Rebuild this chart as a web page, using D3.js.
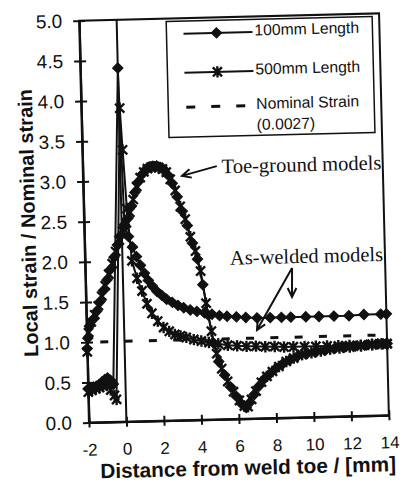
<!DOCTYPE html>
<html>
<head>
<meta charset="utf-8">
<script src="https://cdn.jsdelivr.net/npm/d3@7"></script>
<style>
body { margin: 0; background: #fff; }
svg { display: block; }
.axis text { font-family: "Liberation Sans", Arial, sans-serif; fill: #111; }
.axis path, .axis line { stroke: #111; stroke-width: 2; }
.title { font-family: "Liberation Sans", Arial, sans-serif; font-weight: bold; font-size: 20px; fill: #111; }
.legend text { font-family: "Liberation Sans", Arial, sans-serif; font-size: 15.7px; fill: #111; }
.note { font-family: "Liberation Serif", "Times New Roman", serif; font-size: 20.5px; fill: #111; }
.series { fill: none; stroke: #111; stroke-width: 2; }
</style>
</head>
<body>
<div class="svg-container"></div>
<script>
var xTicks = [-2, 0, 2, 4, 6, 8, 10, 12, 14];
var yTicks = [0, 0.5, 1, 1.5, 2, 2.5, 3, 3.5, 4, 4.5, 5];
var nominalStrain = 1.0;
var weldToeX = 0;
var seriesNames = ['100mm Length', '500mm Length', 'Nominal Strain', '(0.0027)'];

// as-welded, 100mm (diamonds)
var aw100 = [[-2.0,0.42],[-1.85,0.42],[-1.7,0.44],[-1.55,0.45],[-1.4,0.47],[-1.25,0.5],[-1.1,0.53],
	[-0.95,0.55],[-0.8,0.52],[-0.65,0.47],[0.0,4.4],[0.15,2.45],[0.35,2.3],[0.55,2.17],[0.75,2.05],
	[0.95,1.94],[1.15,1.84],[1.35,1.75],[1.55,1.68],[1.8,1.61],[2.05,1.56],[2.3,1.51],[2.6,1.47],
	[2.9,1.43],[3.2,1.4],[3.55,1.37],[3.9,1.35],[4.3,1.33],[4.7,1.31],[5.1,1.29],[5.5,1.28],[6.0,1.27],
	[6.5,1.26],[7.1,1.25],[7.8,1.25],[8.4,1.25],[8.9,1.25],[9.7,1.25],[10.4,1.25],[11.2,1.25],
	[12.0,1.25],[12.8,1.26],[13.7,1.26],[14,1.26]];

// as-welded, 500mm (stars)
var aw500 = [[-2.0,0.38],[-1.8,0.4],[-1.6,0.42],[-1.4,0.43],[-1.2,0.45],[-1.0,0.46],[-0.8,0.4],
	[-0.6,0.33],[-0.5,0.28],[0.05,3.9],[0.15,3.38],[0.3,2.65],[0.5,2.0],[0.75,1.78],[1.0,1.62],
	[1.25,1.46],[1.5,1.34],[1.8,1.24],[2.1,1.16],[2.4,1.11],[2.7,1.07],[3.0,1.05],[3.3,1.03],[3.7,1.0],
	[4.1,0.98],[4.5,0.96],[5.0,0.94],[5.5,0.92],[6.0,0.91],[6.5,0.9],[7.0,0.9],[7.5,0.89],[8.0,0.89],
	[8.5,0.88],[9.0,0.88],[9.6,0.88],[10.2,0.88],[10.8,0.88],[11.4,0.88],[12.0,0.88],[12.6,0.88],
	[13.2,0.89],[13.7,0.89],[14,0.89]];

// toe-ground, 100mm (diamonds)
var tg100 = [[-2.0,0.92],[-1.95,1.05],[-1.85,1.2],[-1.65,1.28],[-1.45,1.38],[-1.25,1.5],[-1.05,1.64],
	[-0.85,1.77],[-0.65,1.9],[-0.45,2.05],[-0.25,2.2],[-0.05,2.32],[0.15,2.42],[0.35,2.53],[0.55,2.68],
	[0.75,2.85],[0.95,2.98],[1.15,3.07],[1.35,3.13],[1.55,3.16],[1.75,3.17],[1.95,3.17],[2.15,3.15],
	[2.35,3.12],[2.55,3.05],[2.75,2.95],[3.0,2.78],[3.25,2.6],[3.5,2.42],[3.75,2.2],[4.0,2.0],[4.25,1.68],
	[4.5,1.3],[4.75,0.95],[5.0,0.72],[5.3,0.55],[5.6,0.4],[5.9,0.28],[6.15,0.19],[6.4,0.14],[6.6,0.2],
	[6.85,0.3],[7.1,0.4],[7.4,0.49],[7.7,0.55],[8.0,0.61],[8.4,0.67],[8.8,0.72],[9.2,0.76],[9.7,0.79],
	[10.2,0.81],[10.7,0.83],[11.2,0.85],[11.7,0.86],[12.3,0.87],[12.9,0.88],[13.5,0.89],[14,0.89]];

// toe-ground, 500mm (stars)
var tg500 = [[-2.0,0.88],[-1.9,1.12],[-1.75,1.25],[-1.55,1.34],[-1.35,1.45],[-1.15,1.57],[-0.95,1.7],
	[-0.75,1.84],[-0.55,1.97],[-0.35,2.12],[-0.15,2.26],[0.05,2.37],[0.25,2.47],[0.45,2.6],[0.65,2.76],
	[0.85,2.92],[1.05,3.03],[1.25,3.1],[1.45,3.14],[1.65,3.16],[1.85,3.16],[2.05,3.15],[2.25,3.13],
	[2.45,3.09],[2.65,3.0],[2.9,2.86],[3.15,2.66],[3.4,2.5],[3.65,2.28],[3.9,2.1],[4.15,1.85],[4.4,1.45],
	[4.65,1.1],[4.9,0.82],[5.15,0.63],[5.45,0.47],[5.75,0.34],[6.05,0.23],[6.3,0.16],[6.5,0.15],
	[6.7,0.24],[6.95,0.34],[7.25,0.45],[7.55,0.52],[7.85,0.58],[8.2,0.64],[8.6,0.7],[9.0,0.74],
	[9.45,0.78],[9.95,0.8],[10.45,0.82],[10.95,0.84],[11.45,0.85],[12.0,0.86],[12.6,0.87],[13.2,0.88],
	[13.75,0.89],[14,0.89]];

// annotations, in data units
var toeNote = { text: 'Toe-ground models', x: 5.41, y: 3.06, from: [5.15, 3.15], to: [3.28, 3.04] };
var weldNote = { text: 'As-welded models', x: 5.73, y: 1.92, from: [9.03, 1.86], to: [[7.08, 1.1], [8.99, 1.5]] };

var width = 405, height = 484;
var margin = { left: 84, right: 21, top: 17, bottom: 65 };

var svg = d3.select('.svg-container')
	.append('svg')
	.attr('width', width)
	.attr('height', height);

// the scan is slightly rotated
var chart = svg.append('g')
	.attr('transform', 'rotate(-1.4, 234, 218)');

var xScale = d3.scaleLinear()
	.domain([-2, 14])
	.range([margin.left, width - margin.right]);

var yScale = d3.scaleLinear()
	.domain([0, 5])
	.range([height - margin.bottom, margin.top]);

var x0 = xScale.range()[0], x1 = xScale.range()[1];
var y0 = yScale.range()[0], y1 = yScale.range()[1];

// frame
chart.append('rect')
	.attr('x', x0).attr('y', y1)
	.attr('width', x1 - x0).attr('height', y0 - y1)
	.attr('fill', 'none').attr('stroke', '#111').attr('stroke-width', 2);

// y axis, ticks crossing the axis line
chart.append('g')
	.attr('class', 'axis')
	.attr('transform', 'translate(' + x0 + ',0)')
	.call(d3.axisLeft(yScale).tickValues(yTicks).tickSize(6).tickSizeOuter(0).tickPadding(11)
		.tickFormat(d3.format('.1f')))
	.selectAll('text').attr('font-size', '19px');

chart.append('g')
	.attr('class', 'axis')
	.attr('transform', 'translate(' + x0 + ',0)')
	.call(d3.axisRight(yScale).tickValues(yTicks).tickSize(6).tickSizeOuter(0).tickFormat(''));

// x axis
chart.append('g')
	.attr('class', 'axis')
	.attr('transform', 'translate(0,' + y0 + ')')
	.call(d3.axisBottom(xScale).tickValues(xTicks).tickSize(5).tickSizeOuter(0).tickPadding(16)
		.tickFormat(function(d) { return String(d); }))
	.selectAll('text').attr('font-size', '17px');

chart.append('g')
	.attr('class', 'axis')
	.attr('transform', 'translate(0,' + y0 + ')')
	.call(d3.axisTop(xScale).tickValues(xTicks).tickSize(5).tickSizeOuter(0).tickFormat(''));

// axis titles
chart.append('text')
	.attr('class', 'title')
	.attr('transform', 'translate(35,' + ((y0 + y1) / 2) + ') rotate(-90)')
	.attr('text-anchor', 'middle')
	.text('Local strain / Nominal strain');

chart.append('text')
	.attr('class', 'title')
	.attr('x', (x0 + x1) / 2 + 8)
	.attr('y', y0 + 56)
	.attr('text-anchor', 'middle')
	.style('font-size', '20.8px')
	.text('Distance from weld toe / [mm]');

// nominal strain
chart.append('line')
	.attr('x1', x0).attr('x2', x1)
	.attr('y1', yScale(nominalStrain)).attr('y2', yScale(nominalStrain))
	.attr('stroke', '#111').attr('stroke-width', 3)
	.attr('stroke-dasharray', '8,16.3').attr('stroke-dashoffset', 11);

// weld toe line
chart.append('line')
	.attr('x1', xScale(weldToeX)).attr('x2', xScale(weldToeX))
	.attr('y1', y0).attr('y2', y1)
	.attr('stroke', '#111').attr('stroke-width', 2);

var starType = {
	draw: function(context, size) {
		var r = Math.sqrt(size) / 2;
		var d = r * 0.8;
		context.moveTo(0, -r); context.lineTo(0, r);
		context.moveTo(-d, -d); context.lineTo(d, d);
		context.moveTo(-d, d); context.lineTo(d, -d);
	}
};

var diamond = d3.symbol().type(d3.symbolSquare).size(55);
var star = d3.symbol().type(starType).size(130);

var line = d3.line()
	.x(function(d) { return xScale(d[0]); })
	.y(function(d) { return yScale(d[1]); });

function drawSeries(data, kind) {
	chart.append('path')
		.datum(data)
		.attr('class', 'series')
		.attr('d', line);

	chart.append('g')
		.selectAll('path')
		.data(data)
		.enter()
		.append('path')
		.attr('transform', function(d) {
			return 'translate(' + xScale(d[0]) + ',' + yScale(d[1]) + ')' + (kind === 'diamond' ? ' rotate(45)' : '');
		})
		.attr('d', kind === 'diamond' ? diamond : star)
		.attr('fill', kind === 'diamond' ? '#111' : 'none')
		.attr('stroke', '#111')
		.attr('stroke-width', kind === 'diamond' ? 1 : 2.4);
}

drawSeries(tg100, 'diamond');
drawSeries(tg500, 'star');
drawSeries(aw500, 'star');
drawSeries(aw100, 'diamond');

// annotations
function arrow(from, to) {
	var ax = xScale(from[0]), ay = yScale(from[1]);
	var bx = xScale(to[0]), by = yScale(to[1]);
	var ang = Math.atan2(by - ay, bx - ax);
	var h = 10, s = 0.45;
	chart.append('path')
		.attr('d', 'M' + ax + ',' + ay + 'L' + bx + ',' + by +
			'M' + (bx - h * Math.cos(ang - s)) + ',' + (by - h * Math.sin(ang - s)) +
			'L' + bx + ',' + by +
			'L' + (bx - h * Math.cos(ang + s)) + ',' + (by - h * Math.sin(ang + s)))
		.attr('fill', 'none').attr('stroke', '#111').attr('stroke-width', 2);
}

chart.append('text')
	.attr('class', 'note')
	.attr('x', xScale(toeNote.x)).attr('y', yScale(toeNote.y))
	.text(toeNote.text);
arrow(toeNote.from, toeNote.to);

chart.append('text')
	.attr('class', 'note')
	.attr('x', xScale(weldNote.x)).attr('y', yScale(weldNote.y))
	.text(weldNote.text);
weldNote.to.forEach(function(t) { arrow(weldNote.from, t); });

// legend
var legend = chart.append('g').attr('class', 'legend');

legend.append('rect')
	.attr('x', 171).attr('y', 20)
	.attr('width', 206).attr('height', 116)
	.attr('fill', '#fff').attr('stroke', '#111').attr('stroke-width', 1.5);

var rows = [
	{ y: 32.5, kind: 'diamond', label: seriesNames[0] },
	{ y: 71.5, kind: 'star', label: seriesNames[1] },
	{ y: 106, kind: 'dash', label: seriesNames[2] }
];

rows.forEach(function(r) {
	if (r.kind === 'dash') {
		legend.append('line')
			.attr('x1', 189).attr('x2', 250)
			.attr('y1', r.y).attr('y2', r.y)
			.attr('stroke', '#111').attr('stroke-width', 3)
			.attr('stroke-dasharray', '9,16');
	} else {
		legend.append('line')
			.attr('x1', 188).attr('x2', 257)
			.attr('y1', r.y).attr('y2', r.y)
			.attr('stroke', '#111').attr('stroke-width', 2);
		legend.append('path')
			.attr('transform', 'translate(221,' + r.y + ')' + (r.kind === 'diamond' ? ' rotate(45)' : ''))
			.attr('d', r.kind === 'diamond' ? diamond : star)
			.attr('fill', r.kind === 'diamond' ? '#111' : 'none')
			.attr('stroke', '#111')
			.attr('stroke-width', r.kind === 'diamond' ? 1 : 2.4);
	}
	legend.append('text')
		.attr('x', 259).attr('y', r.y - 2)
		.attr('dy', '0.35em')
		.text(r.label);
});

legend.append('text')
	.attr('x', 259).attr('y', 125)
	.attr('dy', '0.35em')
	.text(seriesNames[3]);
</script>
</body>
</html>
